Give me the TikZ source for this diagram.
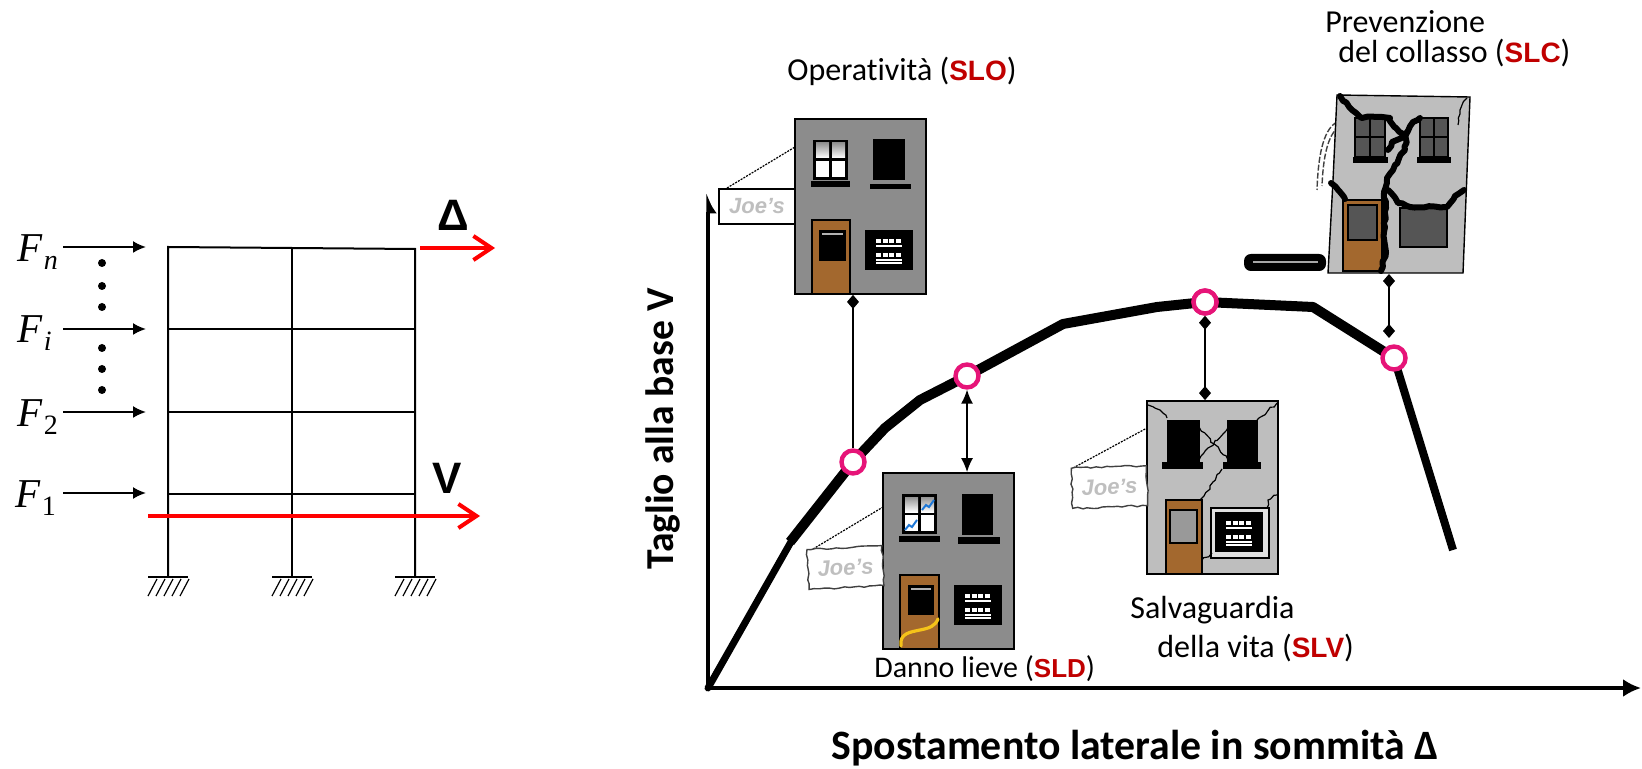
\documentclass[tikz,border=0pt]{standalone}
\usepackage{fontspec}
\setmainfont{Carlito}[Ligatures={TeX,NoCommon}]
\newfontfamily\arialfont{Liberation Sans}
\newfontfamily\timesfont{Liberation Serif}
\usetikzlibrary{arrows.meta,decorations.pathmorphing,calc}
\definecolor{statered}{RGB}{192,0,0}
\definecolor{ringpink}{RGB}{230,20,120}
\definecolor{wallgrey}{RGB}{140,140,140}
\definecolor{wallpale}{RGB}{190,190,190}
\definecolor{doorbrown}{RGB}{163,104,46}
\definecolor{darkpane}{RGB}{85,85,85}
\definecolor{crackblue}{RGB}{30,120,215}
\definecolor{crackyellow}{RGB}{245,195,25}
\newcommand\statetag[1]{{\arialfont\bfseries\fontsize{14}{16}\selectfont\color{statered}#1}}
\newcommand\smallstatetag[1]{{\arialfont\bfseries\fontsize{13}{15}\selectfont\color{statered}#1}}
\newcommand\forcelabel[2]{{\timesfont\fontsize{20.5}{22}\selectfont\textit{F}\kern0.5pt\raisebox{-4pt}{\fontsize{14}{14}\selectfont #2}}}

\tikzset{
  frame/.style={line width=1pt},
  force/.style={line width=1pt,-{Latex[length=6.5pt,width=6pt]}},
  redarr/.style={red,line width=2pt,-{Straight Barb[length=9pt,width=12pt]}},
  axisline/.style={line width=1.7pt},
  conn/.style={line width=0.7pt},
  ring/.style={circle,draw=ringpink,line width=2.2pt,fill=white,minimum size=11.5pt,inner sep=0pt},
  house/.style={draw,line width=0.9pt,inner sep=0pt},
  joesign/.style={draw,fill=white,line width=0.7pt,inner sep=0pt,
    font=\arialfont\bfseries\itshape\fontsize{11}{11}\selectfont,text=black!25},
  joewobble/.style={joesign,draw=black!75,decorate,
    decoration={random steps,segment length=2.5pt,amplitude=0.5pt}},
  signwire/.style={line width=0.6pt,dash pattern=on 1pt off 0.6pt},
  thincrack/.style={line width=0.6pt,decorate,
    decoration={random steps,segment length=2pt,amplitude=0.7pt}},
  bigcrack/.style={line width=3pt,line join=round,line cap=round,decorate,
    decoration={random steps,segment length=2.5pt,amplitude=0.6pt}},
  lbl/.style={font=\fontsize{16}{18}\selectfont,inner sep=0pt},
  pics/panes/.style={code={
    \fill[black] (0,0) rectangle (35,40);
    \shade[top color=gray!85,bottom color=white] (3,3) rectangle (16,18);
    \shade[top color=gray!85,bottom color=white] (19,3) rectangle (32,18);
    \fill[white] (3,21) rectangle (16,37);
    \fill[white] (19,21) rectangle (32,37);
  }},
  pics/plaque/.style={code={
    \fill[black] (0,0) rectangle (48,40);
    \draw[white,line width=1.6pt,dash pattern=on 2.5pt off 0.8pt] (11,11) -- (37,11);
    \draw[white,line width=0.6pt] (11,16) -- (37,16);
    \draw[white,line width=1.6pt,dash pattern=on 2.5pt off 0.8pt] (11,25) -- (37,25);
    \draw[white,line width=0.6pt] (11,30) -- (37,30) (11,33) -- (37,33);
  }},
}

\begin{document}
\begin{tikzpicture}[x=0.5pt,y=-0.5pt]
\pgfmathsetseed{11}
\useasboundingbox (0,0) rectangle (1642,769);
\fill[white] (0,0) rectangle (1642,769);

% ---------------- multi-storey frame ----------------
\draw[frame] (168,577) -- (168,247) -- (415,249) -- (415,577);
\draw[frame] (292,248) -- (292,577);
\foreach \y in {329,412,494} \draw[frame] (168,\y) -- (415,\y);
\foreach \c in {168,292,415} {
  \draw[line width=1pt] (\c-20,577) -- (\c+20,577);
  \foreach \k in {0,...,4}
    \draw[line width=0.6pt] ({\c-20+\k*8},596) -- ({\c-11+\k*8},579);
}
% storey forces
\foreach \y in {247,329,412,493} \draw[force] (63,\y) -- (146,\y);
\node[anchor=base west,inner sep=0pt] (fn) at (17,262) {\forcelabel{F}{\textit{n}}};
\node[anchor=base west,inner sep=0pt] (fi) at (17,343) {\forcelabel{F}{\textit{i}}};
\node[anchor=base west,inner sep=0pt] (f2) at (17,427) {\forcelabel{F}{2}};
\node[anchor=base west,inner sep=0pt] (f1) at (15,508) {\forcelabel{F}{1}};
\foreach \y in {263,286,307,348,369,390} \fill (102,\y) circle (4);
% top displacement and base shear
\draw[redarr] (420,248) -- (495,248);
\node[font=\arialfont\bfseries\fontsize{22}{22}\selectfont,inner sep=0pt] (dl) at (453,215) {Δ};
\draw[redarr] (148,516) -- (480,516);
\node[font=\arialfont\bfseries\fontsize{22}{22}\selectfont,inner sep=0pt] (vl) at (447,478) {V};

% ---------------- capacity curve axes ----------------
\draw[axisline,-{Latex[harpoon,swap,length=8pt,width=9pt]}] (708,688) -- (708,193);
\draw[axisline,-{Latex[length=9pt,width=9pt]}] (708,688) -- (1641,688);
\node[rotate=90,font=\bfseries\fontsize{19.8}{20}\selectfont,inner sep=0pt] (ylab) at (663,429) {Taglio alla base V};
\node[font=\bfseries\fontsize{20.9}{21}\selectfont,inner sep=0pt] (xlab) at (1135,748) {Spostamento laterale in sommità Δ};

% ---------------- SLO building ----------------
\draw[signwire] (727,188) -- (795,147);
\node[house,fill=wallgrey,minimum width=65.5pt,minimum height=87.5pt] (sloB) at (860.5,206.5) {};
\node[joesign,minimum width=38pt,minimum height=17.5pt] (sloJ) at (757,206.5) {Joe’s};
\pic at (813,140) {panes};
\fill (811,181) rectangle (850,187);
\fill (873,139) rectangle (905,180);
\fill (870,184) rectangle (911,189);
\draw[fill=doorbrown,line width=0.8pt] (812,220) rectangle (850,294);
\fill (819,230) rectangle (846,261);
\draw[gray!60,line width=1pt] (822,234) -- (843,234);
\pic at (865,230) {plaque};

% ---------------- SLD building ----------------
\draw[signwire] (813,549) -- (883,507);
\node[house,fill=wallgrey,minimum width=65.5pt,minimum height=88pt] (sldB) at (948.5,561) {};
\node[joewobble,rotate=3,minimum width=37.5pt,minimum height=20pt] (sldJ) at (845.5,567.5) {Joe’s};
\pic at (902,494) {panes};
\draw[crackblue,line width=1pt] (922,510) -- (926,505) -- (929,507) -- (934,500);
\draw[crackblue,line width=1pt] (905,530) -- (909,525) -- (912,527) -- (917,520);
\fill (899,536) rectangle (940,542);
\fill (962,494) rectangle (993,535);
\fill (958,537) rectangle (1000,544);
\draw[fill=doorbrown,line width=0.8pt] (900,575) rectangle (939,649);
\fill (908,585) rectangle (934,615);
\draw[gray!60,line width=1pt] (911,589) -- (931,589);
\draw[crackyellow,line width=1.6pt,line cap=round] (901,646) .. controls (899,633) and (911,632) .. (920,630) .. controls (930,628) and (935,626) .. (938,619);
\pic at (954,585) {plaque};

% ---------------- SLV building ----------------
\draw[signwire] (1073,468) -- (1147,428);
\node[house,fill=wallpale,minimum width=65.5pt,minimum height=86.5pt] (slvB) at (1212.5,487.5) {};
\node[joewobble,rotate=2,minimum width=37.5pt,minimum height=20pt] (slvJ) at (1109.5,487) {Joe’s};
\fill (1167,420) rectangle (1200,463);
\fill (1162,462) rectangle (1203,469);
\fill (1227,420) rectangle (1258,463);
\fill (1223,462) rectangle (1261,469);
\draw[fill=doorbrown,line width=0.8pt] (1166,500) rectangle (1202,574);
\shade[top color=gray!80,middle color=white,bottom color=gray!80] (1170,510) rectangle (1197,543);
\draw[line width=0.6pt] (1170,510) rectangle (1197,543);
\draw[line width=0.6pt,fill=white!88!black] (1211,508) rectangle (1269,558);
\pic at (1215,512) {plaque};
\draw[thincrack] (1148,405) -- (1160,410) -- (1167,418);
\draw[thincrack] (1277,403) -- (1267,412) -- (1257,420);
\draw[thincrack] (1199,427) -- (1228,460);
\draw[thincrack] (1228,427) -- (1199,460);
\draw[thincrack] (1222,469) -- (1213,482) -- (1204,496) -- (1200,500);
\draw[thincrack] (1277,495) -- (1268,500) -- (1267,508);
\draw[thincrack] (1202,560) -- (1212,553);

% ---------------- SLC building ----------------
\draw[line width=0.7pt,draw=black!75,dash pattern=on 3pt off 1pt] (1337,122) .. controls (1322,130) and (1318,160) .. (1317,190);
\draw[line width=0.7pt,draw=black!75,dash pattern=on 3pt off 1pt] (1340,126) .. controls (1327,134) and (1323,160) .. (1322,186);
\draw[fill=wallpale,line width=0.7pt] (1337,95) -- (1470,97) -- (1463,273) -- (1328,273) -- (1333,180) -- cycle;
\draw[fill=darkpane,line width=1.2pt] (1355,118) rectangle (1385,157);
\draw[line width=1.2pt] (1370,118) -- (1370,157) (1355,137) -- (1385,137);
\draw[fill=darkpane,line width=1.2pt] (1420,118) rectangle (1448,157);
\draw[line width=1.2pt] (1434,118) -- (1434,157) (1420,137) -- (1448,137);
\fill (1353,157) rectangle (1388,163);
\fill (1417,157) rectangle (1451,163);
\draw[fill=doorbrown,line width=0.8pt] (1343,200) rectangle (1382,271);
\draw[fill=darkpane,line width=1pt] (1348,205) rectangle (1377,240);
\draw[fill=darkpane,line width=1pt] (1400,208) rectangle (1447,247);
\draw[bigcrack] (1340,96) -- (1352,110) -- (1362,118) -- (1378,117) -- (1390,118);
\draw[bigcrack] (1388,118) -- (1396,128) -- (1405,135) -- (1392,142) -- (1388,150);
\draw[bigcrack] (1405,135) -- (1413,122) -- (1420,118);
\draw[bigcrack] (1407,132) -- (1405,150) -- (1395,165) -- (1387,178) -- (1384,192) -- (1386,208) -- (1384,232) -- (1386,252) -- (1381,271);
\draw[bigcrack] (1388,190) -- (1398,203) -- (1410,207) -- (1447,207) -- (1455,196) -- (1464,190);
\draw[bigcrack] (1331,183) -- (1340,192) -- (1345,199);
\draw[thincrack] (1467,98) -- (1460,110) -- (1458,125);
\draw[line width=1pt,rounded corners=3pt,fill=black] (1245,255) rectangle (1325,270);
\draw[gray!70,line width=1pt] (1253,262.5) -- (1318,262.5);
\coordinate (slcfoot) at (1389,274);
\coordinate (slcend) at (1389,338);

% ---------------- capacity curve ----------------
\draw[line width=3.5pt,line cap=round] (708,688) -- (750,614) -- (792,540);
\draw[line width=5pt,line join=round] (790,542) -- (853,462) -- (885,428) -- (920,400) -- (967,376) -- (1015,350) -- (1063,324) -- (1157,307) -- (1205,302) -- (1313,307) -- (1394,358);
\draw[line width=4pt] (1394,358) -- (1453,550);

% performance points
\node[ring] (c1) at (853,462) {};
\node[ring] (c2) at (967,376) {};
\node[ring] (c3) at (1205,302) {};
\node[ring] (c4) at (1394,358) {};

% links between points and damage states
\draw[conn,{Diamond[length=7pt,width=6pt]}-] (sloB.south -| c1) -- (c1);
\draw[conn,{Latex[length=7pt,width=6pt]}-{Latex[length=7pt,width=6pt]}] (c2) -- (sldB.north -| c2);
\draw[conn,{Diamond[length=7pt,width=6pt]}-{Diamond[length=7pt,width=6pt]}] (c3) -- (slvB.north -| c3);
\draw[conn,{Diamond[length=7pt,width=6pt]}-{Diamond[length=7pt,width=6pt]}] (slcfoot) -- (slcend);
\node[ring] at (c3) {};

% state labels
\node[lbl,anchor=base west] (sloL) at (787,81) {Operatività (\statetag{SLO})};
\node[lbl,anchor=base west] (slcL1) at (1325,33) {Prevenzione};
\node[lbl,anchor=base west] (slcL2) at (1338,63) {del collasso (\statetag{SLC})};
\node[lbl,anchor=base west] (slvL1) at (1130,618) {Salvaguardia};
\node[lbl,anchor=base west] (slvL2) at (1157,657) {della vita (\statetag{SLV})};
\node[lbl,font=\fontsize{15}{17}\selectfont,anchor=base west] (sldL) at (874,677) {Danno lieve (\smallstatetag{SLD})};
\end{tikzpicture}
\end{document}
